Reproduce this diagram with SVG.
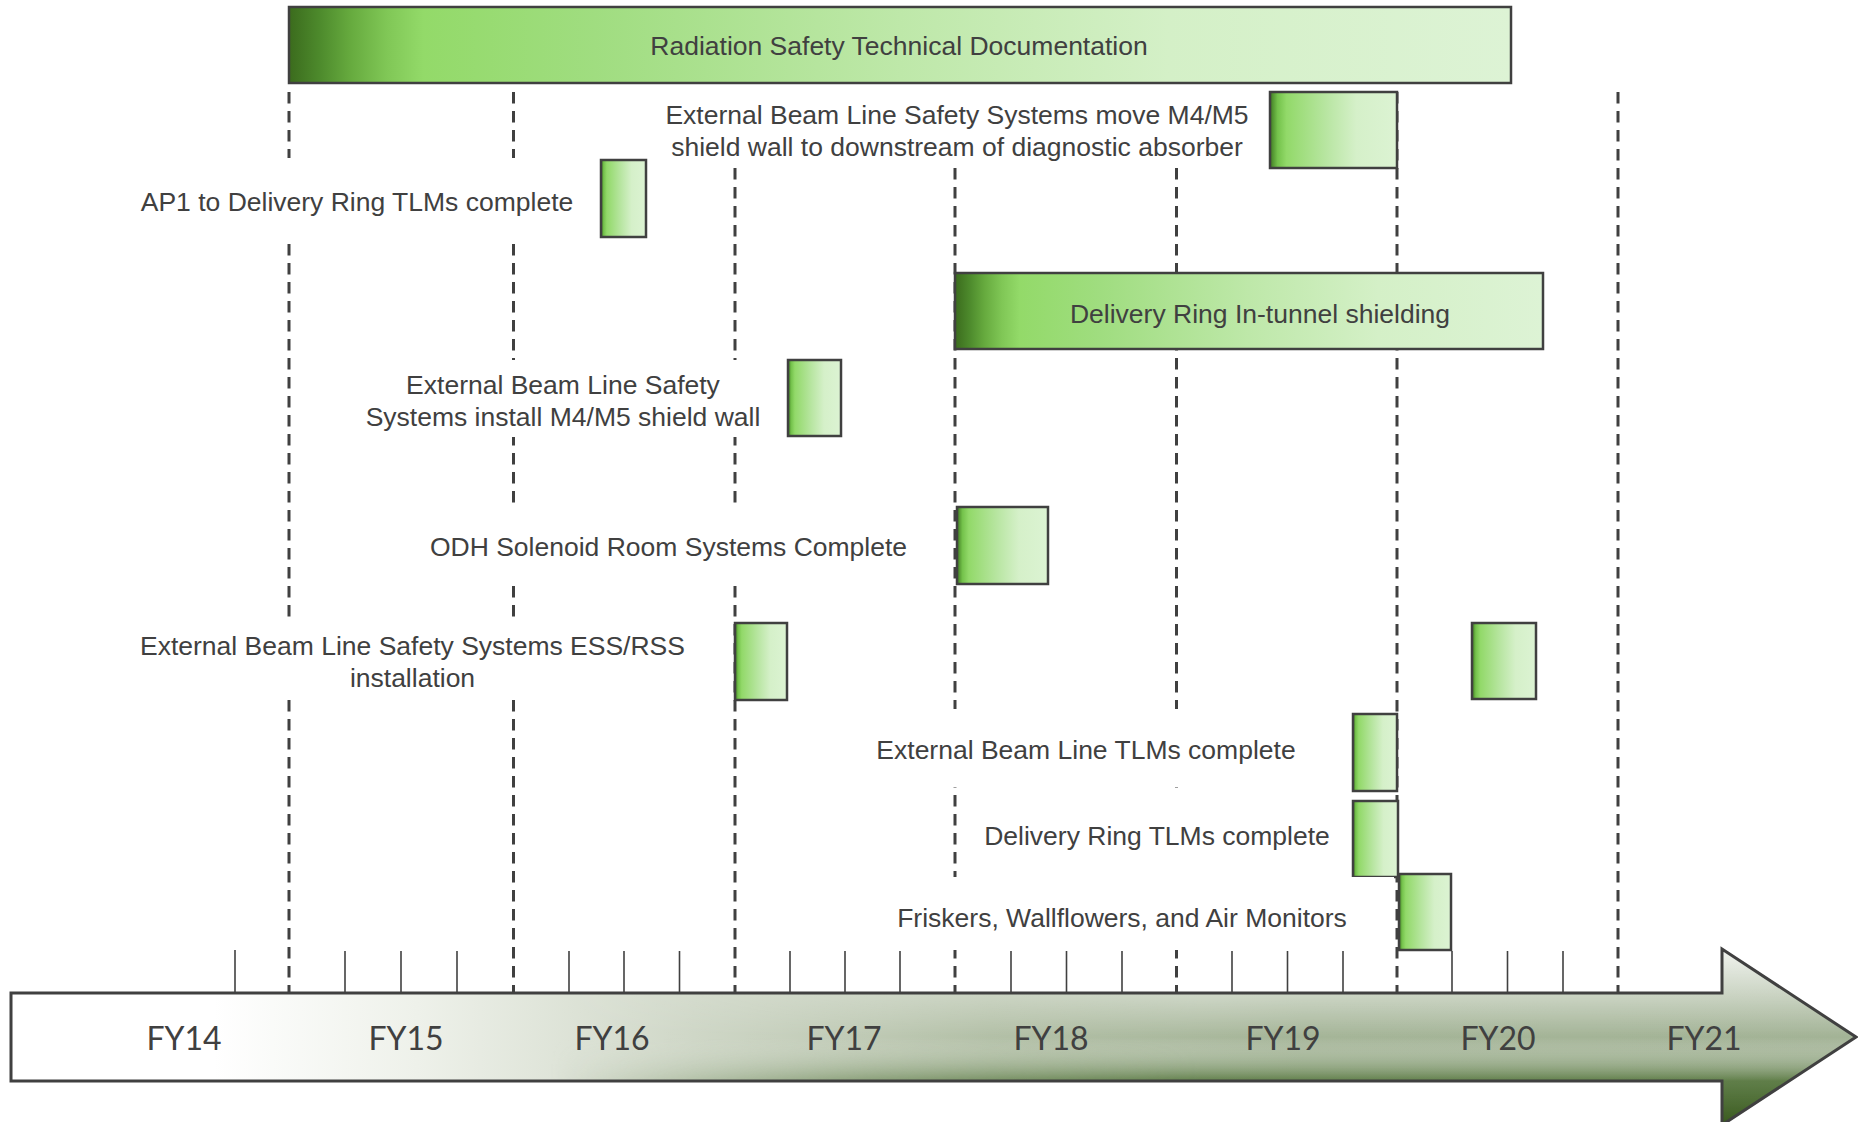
<svg xmlns="http://www.w3.org/2000/svg" width="1858" height="1122" viewBox="0 0 1858 1122">
<defs>
<style>
.lbl{font-family:"Liberation Sans",Arial,sans-serif;font-size:26.5px;fill:#404040;text-anchor:middle}
.fy{font-family:Lato,"Open Sans",sans-serif;font-size:32px;fill:#404040;text-anchor:middle}
.bg{fill:#ffffff;stroke:none}
.bar{fill:url(#gBar);stroke:#404040;stroke-width:2.5}
.ms{fill:url(#gBox);stroke:#404040;stroke-width:2.5}
.dash{stroke:#404040;stroke-width:3;stroke-dasharray:11.5 7.5;fill:none}
.tick{stroke:#404040;stroke-width:1.6}
</style>
<linearGradient id="gBar" x1="0" y1="0" x2="1" y2="0">
<stop offset="0" stop-color="#3b6b1d"/>
<stop offset="0.025" stop-color="#4d8a2c"/>
<stop offset="0.05" stop-color="#66aa3e"/>
<stop offset="0.08" stop-color="#80c756"/>
<stop offset="0.11" stop-color="#93da69"/>
<stop offset="0.25" stop-color="#a0dd80"/>
<stop offset="0.5" stop-color="#bee8a9"/>
<stop offset="0.72" stop-color="#d4f0c7"/>
<stop offset="1" stop-color="#ddf3d5"/>
</linearGradient>
<linearGradient id="gBox" x1="0" y1="0" x2="1" y2="0">
<stop offset="0" stop-color="#3f7a22"/>
<stop offset="0.06" stop-color="#74c24b"/>
<stop offset="0.13" stop-color="#92d969"/>
<stop offset="0.45" stop-color="#b9e6a3"/>
<stop offset="0.68" stop-color="#d5f0c9"/>
<stop offset="1" stop-color="#dcf3d3"/>
</linearGradient>
<linearGradient id="gArrowH" gradientUnits="userSpaceOnUse" x1="11" y1="0" x2="1858" y2="0">
<stop offset="0" stop-color="#ffffff"/>
<stop offset="0.11" stop-color="#ffffff"/>
<stop offset="0.22" stop-color="#eef1ea"/>
<stop offset="0.37" stop-color="#cfd7c7"/>
<stop offset="0.53" stop-color="#b3c0a7"/>
<stop offset="0.7" stop-color="#a5b598"/>
<stop offset="1" stop-color="#a3b396"/>
</linearGradient>
<linearGradient id="gArrowV" gradientUnits="userSpaceOnUse" x1="0" y1="949" x2="0" y2="1125">
<stop offset="0" stop-color="#ffffff" stop-opacity="0.85"/>
<stop offset="0.25" stop-color="#ffffff" stop-opacity="0.45"/>
<stop offset="0.5" stop-color="#ffffff" stop-opacity="0"/>
<stop offset="0.75" stop-color="#4f7136" stop-opacity="0.8"/>
<stop offset="1" stop-color="#38581d" stop-opacity="1"/>
</linearGradient>
<linearGradient id="gMask" gradientUnits="userSpaceOnUse" x1="550" y1="0" x2="1200" y2="0">
<stop offset="0" stop-color="#000000"/>
<stop offset="0.5" stop-color="#999999"/>
<stop offset="1" stop-color="#ffffff"/>
</linearGradient>
<mask id="mArrow" maskUnits="userSpaceOnUse" x="0" y="900" width="1858" height="222">
<rect x="0" y="900" width="1858" height="222" fill="url(#gMask)"/>
</mask>
</defs>
<rect x="0" y="0" width="1858" height="1122" fill="#ffffff"/>

<g id="gridlines">
<line class="dash" x1="289" y1="92" x2="289" y2="993"/>
<line class="dash" x1="513.5" y1="92" x2="513.5" y2="993"/>
<line class="dash" x1="735" y1="92" x2="735" y2="993"/>
<line class="dash" x1="955" y1="92" x2="955" y2="993"/>
<line class="dash" x1="1176.5" y1="92" x2="1176.5" y2="993"/>
<line class="dash" x1="1397" y1="92" x2="1397" y2="993"/>
<line class="dash" x1="1618" y1="92" x2="1618" y2="993"/>
<g class="tick">
<line x1="235" y1="950" x2="235" y2="993"/>
<line x1="345" y1="951" x2="345" y2="993"/>
<line x1="401" y1="951" x2="401" y2="993"/>
<line x1="457" y1="951" x2="457" y2="993"/>
<line x1="569" y1="951" x2="569" y2="993"/>
<line x1="624" y1="951" x2="624" y2="993"/>
<line x1="679.5" y1="951" x2="679.5" y2="993"/>
<line x1="790" y1="951" x2="790" y2="993"/>
<line x1="845" y1="951" x2="845" y2="993"/>
<line x1="900" y1="951" x2="900" y2="993"/>
<line x1="1011" y1="951" x2="1011" y2="993"/>
<line x1="1066.5" y1="951" x2="1066.5" y2="993"/>
<line x1="1122" y1="951" x2="1122" y2="993"/>
<line x1="1232" y1="951" x2="1232" y2="993"/>
<line x1="1287.5" y1="951" x2="1287.5" y2="993"/>
<line x1="1343" y1="951" x2="1343" y2="993"/>
<line x1="1452" y1="951" x2="1452" y2="993"/>
<line x1="1507.5" y1="951" x2="1507.5" y2="993"/>
<line x1="1563" y1="951" x2="1563" y2="993"/>
</g>
</g>

<g id="node-radiation-doc">
<rect class="bar" x="289" y="7" width="1222" height="76"/>
<text class="lbl" x="899" y="54.5">Radiation Safety Technical Documentation</text>
</g>

<g id="node-move-shield">
<rect class="bg" x="652" y="85" width="613" height="83"/>
<text class="lbl" x="957" y="123.5">External Beam Line Safety Systems move M4/M5</text>
<text class="lbl" x="957" y="155.5">shield wall to downstream of diagnostic absorber</text>
<rect class="ms" x="1270" y="92" width="127" height="76"/>
</g>

<g id="node-ap1-tlms">
<rect class="bg" x="120" y="158" width="472" height="84"/>
<text class="lbl" x="357" y="210.5">AP1 to Delivery Ring TLMs complete</text>
<rect class="ms" x="601" y="160" width="45" height="77"/>
</g>

<g id="node-dr-shielding">
<rect class="bar" x="955" y="273" width="588" height="76"/>
<text class="lbl" x="1260" y="322.5">Delivery Ring In-tunnel shielding</text>
</g>

<g id="node-install-shield">
<rect class="bg" x="350" y="360" width="433" height="77"/>
<text class="lbl" x="563" y="393.5">External Beam Line Safety</text>
<text class="lbl" x="563" y="425.5">Systems install M4/M5 shield wall</text>
<rect class="ms" x="788" y="360" width="53" height="76"/>
</g>

<g id="node-odh">
<rect class="bg" x="415" y="507" width="535" height="79"/>
<text class="lbl" x="668.5" y="555.5">ODH Solenoid Room Systems Complete</text>
<rect class="ms" x="957" y="507" width="91" height="77"/>
</g>

<g id="node-ess-rss">
<rect class="bg" x="120" y="622" width="612" height="78"/>
<text class="lbl" x="412.5" y="655">External Beam Line Safety Systems ESS/RSS</text>
<text class="lbl" x="412.5" y="687">installation</text>
<rect class="ms" x="735" y="623" width="52" height="77"/>
</g>

<g id="node-fy20-box">
<rect class="ms" x="1472" y="623" width="64" height="76"/>
</g>

<g id="node-ebl-tlms">
<rect class="bg" x="850" y="709" width="498" height="78"/>
<text class="lbl" x="1086" y="758.5">External Beam Line TLMs complete</text>
<rect class="ms" x="1353" y="714" width="44" height="77"/>
</g>

<g id="node-dr-tlms">
<rect class="bg" x="965" y="793" width="383" height="84"/>
<text class="lbl" x="1157" y="844.5">Delivery Ring TLMs complete</text>
<rect class="ms" x="1353" y="801" width="45" height="76"/>
</g>

<g id="node-friskers">
<rect class="bg" x="885" y="877" width="509" height="73"/>
<text class="lbl" x="1122" y="926.5">Friskers, Wallflowers, and Air Monitors</text>
<rect class="ms" x="1399" y="874" width="52" height="76"/>
</g>

<g id="timeline-arrow">
<path d="M11,993 H1722 V949 L1856,1037 L1722,1125 V1081 H11 Z" fill="url(#gArrowH)"/>
<path d="M11,993 H1722 V949 L1856,1037 L1722,1125 V1081 H11 Z" fill="url(#gArrowV)" mask="url(#mArrow)"/>
<path d="M11,993 H1722 V949 L1856,1037 L1722,1125 V1081 H11 Z" fill="none" stroke="#404040" stroke-width="3"/>
<text class="fy" x="184" y="1050">FY14</text>
<text class="fy" x="406" y="1050">FY15</text>
<text class="fy" x="612" y="1050">FY16</text>
<text class="fy" x="844" y="1050">FY17</text>
<text class="fy" x="1051" y="1050">FY18</text>
<text class="fy" x="1283" y="1050">FY19</text>
<text class="fy" x="1498" y="1050">FY20</text>
<text class="fy" x="1704" y="1050">FY21</text>
</g>
</svg>
